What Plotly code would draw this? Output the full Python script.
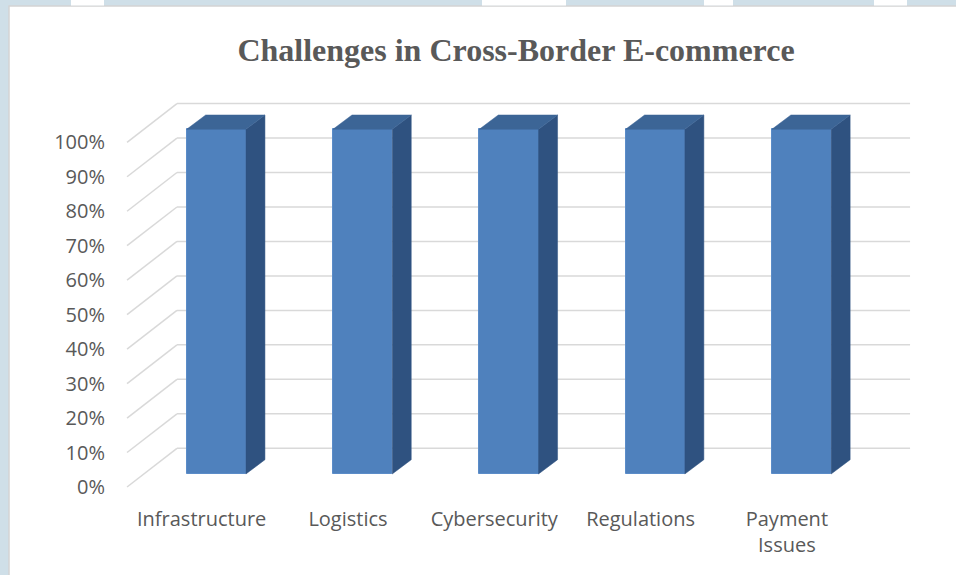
import plotly.graph_objects as go

# ---- data ----
categories = ["Infrastructure", "Logistics", "Cybersecurity", "Regulations", "Payment<br>Issues"]
values = [100, 100, 100, 100, 100]
y_ticks = [0, 10, 20, 30, 40, 50, 60, 70, 80, 90, 100]
y_tick_labels = [f"{v}%" for v in y_ticks]

# ---- pseudo-3D geometry (in axis units) ----
BAR_W = 0.405          # bar width in category units
DEPTH_DX = 0.13        # bar depth, x offset
DEPTH_DY = 4.15        # bar depth, y offset (percent units)
BACK_DY = 7.46         # back wall offset from bar plane
FRONT_DY = -3.77       # front axis plane offset from bar plane
FRONT_X = -0.61        # left end of the floor/grid diagonals (front)
BACK_X = -0.269        # left end of back-wall horizontals
END_X = 4.742          # right end of back-wall horizontals
LABEL_DX = -0.1        # category label shift (front plane)

FRONT_C = "#4f81bd"
TOP_C = "#3c6596"
SIDE_C = "#2f5280"
GRID_C = "#d9d9d9"
TEXT_C = "#595959"

# plot-area placement (pixels) used to convert page decoration into paper coords
W, H = 956, 575
ML, MR, MT, MB = 120, 40, 90, 80
PW, PH = W - ML - MR, H - MT - MB


def px(xp):
    return (xp - ML) / PW


def py(yp):
    return (H - MB - yp) / PH


fig = go.Figure()

shapes = []
# page background: white sheet with border and a few white patches in the top strip
shapes.append(dict(type="rect", xref="paper", yref="paper", x0=px(9), x1=px(W + 5),
                   y0=py(H + 5), y1=py(6), fillcolor="white",
                   line=dict(color="#d4d4d4", width=1.5), layer="below"))
for a, b in [(71, 104), (482, 566), (704, 733), (874, 907)]:
    shapes.append(dict(type="rect", xref="paper", yref="paper", x0=px(a), x1=px(b),
                       y0=py(5.5), y1=py(-1), fillcolor="white", line=dict(width=0),
                       layer="below"))

# gridlines: front diagonal + back wall horizontal (below the bars)
for v in y_ticks:
    shapes.append(dict(type="line", xref="x", yref="y", x0=FRONT_X, y0=v + FRONT_DY,
                       x1=BACK_X, y1=v + BACK_DY, line=dict(color=GRID_C, width=1.5),
                       layer="below"))
    shapes.append(dict(type="line", xref="x", yref="y", x0=BACK_X, y0=v + BACK_DY,
                       x1=END_X, y1=v + BACK_DY, line=dict(color=GRID_C, width=1.5),
                       layer="below"))

xs = list(range(len(categories)))

# side faces
for x, v in zip(xs, values):
    xr = x + BAR_W / 2
    fig.add_trace(go.Scatter(
        x=[xr, xr, xr + DEPTH_DX, xr + DEPTH_DX, xr],
        y=[0, v, v + DEPTH_DY, DEPTH_DY, 0],
        fill="toself", fillcolor=SIDE_C, mode="lines",
        line=dict(color=SIDE_C, width=0.5),
        hoverinfo="skip", showlegend=False))

# top faces
for x, v in zip(xs, values):
    xl = x - BAR_W / 2
    xr = x + BAR_W / 2
    fig.add_trace(go.Scatter(
        x=[xl, xr, xr + DEPTH_DX, xl + DEPTH_DX, xl],
        y=[v, v, v + DEPTH_DY, v + DEPTH_DY, v],
        fill="toself", fillcolor=TOP_C, mode="lines",
        line=dict(color=TOP_C, width=0.5),
        hoverinfo="skip", showlegend=False))

# front faces
fig.add_trace(go.Bar(
    x=xs, y=values, width=BAR_W,
    marker=dict(color=FRONT_C, line=dict(color="#5b8cc8", width=1)),
    showlegend=False))

fig.update_layout(
    width=W, height=H,
    margin=dict(l=ML, r=MR, t=MT, b=MB, autoexpand=False),
    paper_bgcolor="#cfdfe8",
    plot_bgcolor="rgba(0,0,0,0)",
    shapes=shapes,
    title=dict(text="<b>Challenges in Cross-Border E-commerce</b>",
               x=516 / W, xanchor="center", y=1 - 50 / H, yanchor="middle",
               font=dict(family="Liberation Serif", size=32, color=TEXT_C)),
    font=dict(family="Open Sans", size=20, color=TEXT_C),
    xaxis=dict(range=[-0.6582, 4.7826], showgrid=False, zeroline=False, showline=False,
               tickmode="array", tickvals=[x + LABEL_DX for x in xs], ticktext=categories,
               ticks="outside", ticklen=6, tickcolor="rgba(0,0,0,0)",
               tickfont=dict(family="Open Sans", size=20, color=TEXT_C), fixedrange=True),
    yaxis=dict(range=[-6.092, 111.40], showgrid=False, zeroline=False, showline=False,
               tickmode="array", tickvals=[v + FRONT_DY for v in y_ticks], ticktext=y_tick_labels,
               ticks="outside", ticklen=10, tickcolor="rgba(0,0,0,0)",
               tickfont=dict(family="Open Sans", size=20, color=TEXT_C), fixedrange=True),
    bargap=0,
)

fig.write_html("out.html")
